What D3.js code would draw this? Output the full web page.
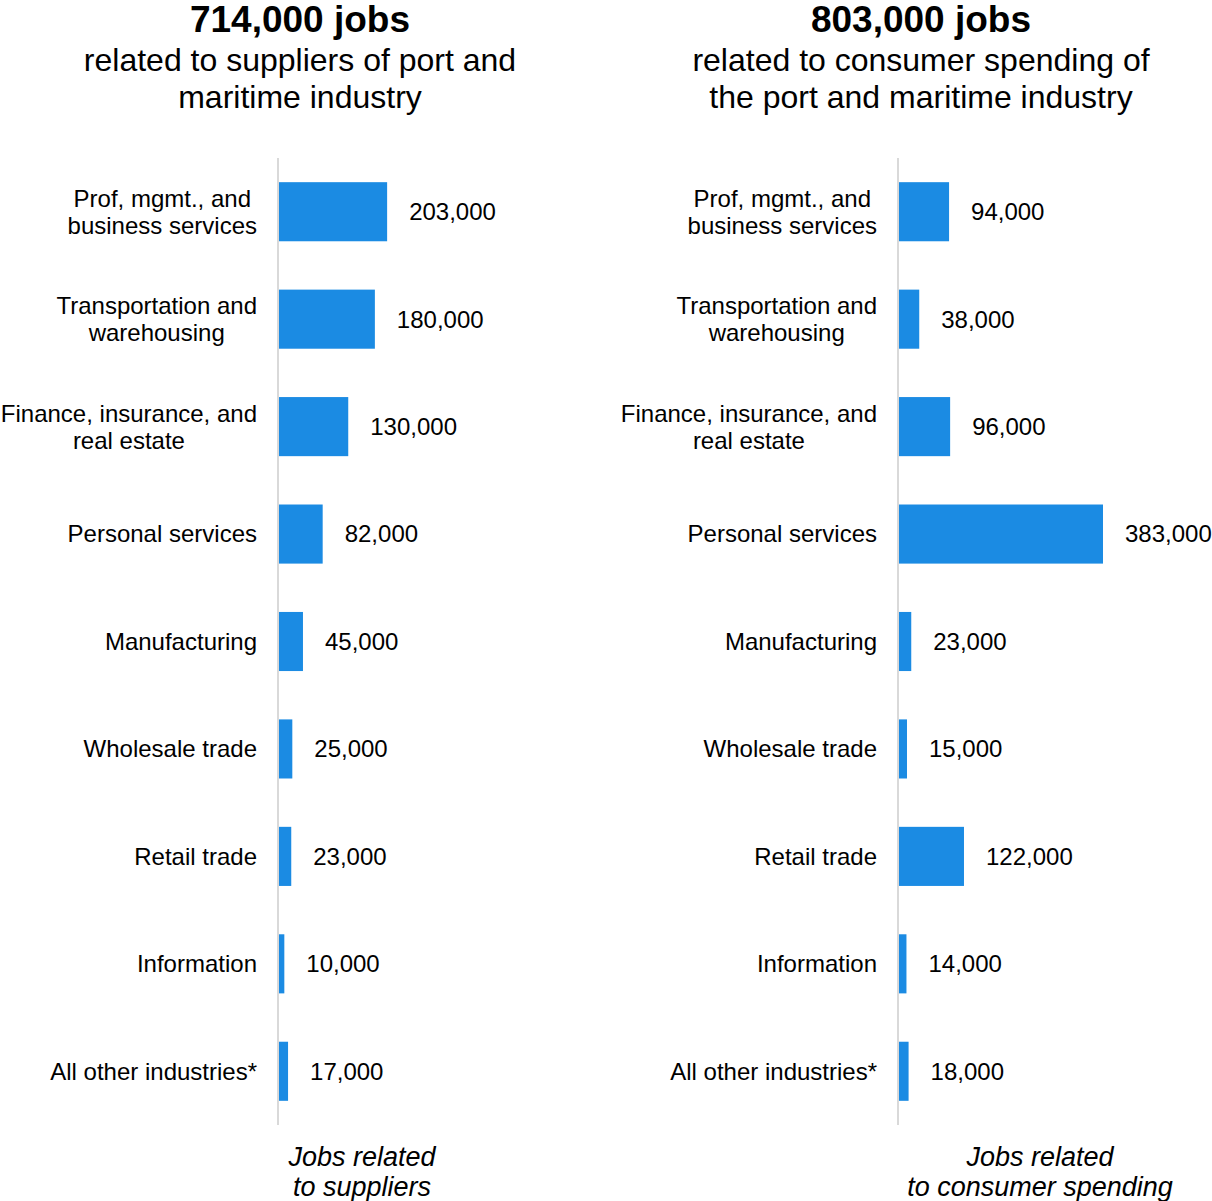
<!DOCTYPE html>
<html><head><meta charset="utf-8">
<script src="https://cdn.jsdelivr.net/npm/d3@7"></script>
<style>
html,body{margin:0;padding:0;background:#fff;}
svg{display:block;font-family:"Liberation Sans",Arial,sans-serif;}
</style></head>
<body>
<svg id="chart" width="1212" height="1201"></svg>
<script>
const categories = [
  ["Prof, mgmt., and","business services"],
  ["Transportation and","warehousing"],
  ["Finance, insurance, and","real estate"],
  ["Personal services"],
  ["Manufacturing"],
  ["Wholesale trade"],
  ["Retail trade"],
  ["Information"],
  ["All other industries*"]
];
const supplierJobs = [203000,180000,130000,82000,45000,25000,23000,10000,17000];
const consumerJobs = [94000,38000,96000,383000,23000,15000,122000,14000,18000];
const panelTitles = ["714,000 jobs","803,000 jobs"];
const panelSubtitles = [
  ["related to suppliers of port and","maritime industry"],
  ["related to consumer spending of","the port and maritime industry"]
];
const panelCaptions = [
  ["Jobs related","to suppliers"],
  ["Jobs related","to consumer spending"]
];

const svg = d3.select("#chart");
const fmt = d3.format(",");
const barColor = "#1b8be3";

const panels = [
  {axisX:279, titleX:300, captionX:362, values:supplierJobs},
  {axisX:899, titleX:921, captionX:1040, values:consumerJobs}
];

const idx = d3.range(categories.length);
const y = d3.scaleBand().domain(idx).range([158,1125]).paddingInner(0.45).paddingOuter(0.225);

panels.forEach((p,pi)=>{
  const g = svg.append("g");
  g.append("text").attr("x",p.titleX).attr("y",32).attr("text-anchor","middle")
    .attr("font-size",37).attr("font-weight","bold").attr("fill","#000").text(panelTitles[pi]);
  panelSubtitles[pi].forEach((s,i)=>{
    g.append("text").attr("x",p.titleX).attr("y",71+i*37).attr("text-anchor","middle")
      .attr("font-size",32).attr("fill","#000").text(s);
  });
  g.append("line").attr("x1",p.axisX-1).attr("x2",p.axisX-1).attr("y1",158).attr("y2",1125)
    .attr("stroke","#d9d9d9").attr("stroke-width",2);
  const x = d3.scaleLinear().domain([0,383000]).range([p.axisX, p.axisX+204]);
  g.selectAll("rect.bar").data(p.values).join("rect")
    .attr("class","bar")
    .attr("x",x(0)).attr("y",(d,i)=>y(i))
    .attr("width",d=>x(d)-x(0)).attr("height",y.bandwidth())
    .attr("fill",barColor);
  g.selectAll("text.val").data(p.values).join("text")
    .attr("class","val")
    .attr("x",d=>x(d)+22).attr("y",(d,i)=>y(i)+y.bandwidth()/2)
    .attr("dy","0.35em").attr("font-size",24).attr("fill","#000")
    .text(d=>fmt(d));
  categories.forEach((lines,i)=>{
    const cy = y(i)+y.bandwidth()/2;
    const t = g.append("text").attr("text-anchor","middle").attr("font-size",24).attr("fill","#000");
    const spans = lines.map((ln,j)=>t.append("tspan")
        .attr("y",cy + (j-(lines.length-1)/2)*27)
        .attr("dy","0.35em").text(ln));
    const maxW = d3.max(spans, s=>s.node().getComputedTextLength());
    const right = p.axisX-22;
    spans.forEach(s=>s.attr("x", right - maxW/2));
  });
  panelCaptions[pi].forEach((c,i)=>{
    g.append("text").attr("x",p.captionX).attr("y",1166+i*30).attr("text-anchor","middle")
      .attr("font-size",27).attr("font-style","italic").attr("fill","#000").text(c);
  });
});
</script>
</body></html>
